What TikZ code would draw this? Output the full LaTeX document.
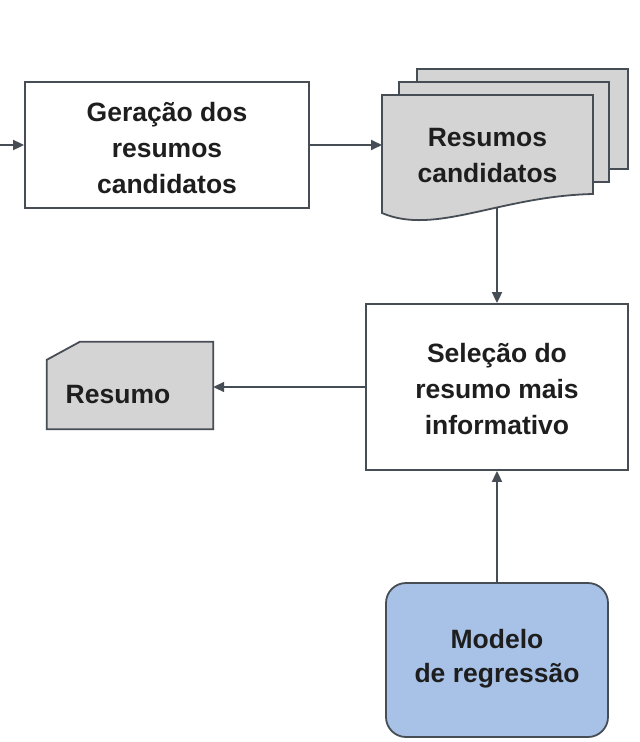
\documentclass[tikz,border=0pt]{standalone}
\usepackage{fontspec}
\setmainfont{Liberation Sans}
\usetikzlibrary{arrows.meta}
\definecolor{edgecol}{HTML}{474D55}
\definecolor{docgray}{HTML}{D4D4D4}
\definecolor{modelblue}{HTML}{A7C2E6}
\definecolor{txtcol}{HTML}{1E1E1E}
\begin{document}
\begin{tikzpicture}[x=1pt,y=-1pt,
  lbl/.style={font=\fontsize{26.5}{36}\selectfont\bfseries, text=txtcol, align=center},
  procbox/.style={lbl, draw=edgecol, line width=1.8pt, fill=white, inner sep=0pt},
  modelbox/.style={procbox, fill=modelblue, rounded corners=20pt},
  conn/.style={draw=edgecol, line width=1.8pt, -{Triangle[length=11pt,width=10pt]}},
  page/.style={draw=edgecol, line width=1.8pt, fill=docgray, line join=miter}]
\useasboundingbox (0,0) rectangle (640,742);
\fill[white] (0,0) rectangle (640,742);

% main boxes
\node[procbox, minimum width=284pt, minimum height=126pt] (gen) at (167,145) {};
\node[lbl] (gentxt) at (167,148) {Geração dos\\resumos\\candidatos};
\node[procbox, minimum width=262pt, minimum height=166pt] (sel) at (497,387) {};
\node[lbl] (seltxt) at (497,389) {Seleção do\\resumo mais\\informativo};
\node[modelbox, minimum width=222pt, minimum height=154pt] (model) at (497,660) {};
\node[lbl, font=\fontsize{26.5}{34}\selectfont\bfseries] (modeltxt) at (497,659)
  {Modelo\\de regressão};

% card (output summary)
\node[minimum width=166pt, minimum height=87pt, inner sep=0pt] (card) at (130,385.5) {};
\draw[page] (card.south west) -- ([yshift=-18pt]card.north west)
  -- ([xshift=33pt]card.north west) -- (card.north east) -- (card.south east) -- cycle;
\node[lbl] (cardtxt) at (118,395) {Resumo};

% connector from document stack, drawn below the pages
\coordinate (docin) at (497,185);
\draw[conn] (docin) -- (sel.north);

% document stack
\draw[page] (417,69) rectangle (628,169);
\draw[page] (399,82) rectangle (609,182);
\draw[page] (382,95) -- (593,95) -- (593,194)
  .. controls (500,196) and (435,236) .. (382,213) -- cycle;
\node[lbl] (doctxt) at (487.5,156) {Resumos\\candidatos};
\coordinate (docw) at (382,145);

% connectors
\coordinate (inlet) at (0,145);
\draw[conn] (inlet) -- (gen.west);
\draw[conn] (gen.east) -- (docw);
\draw[conn] (sel.west) -- (sel.west -| card.east);
\draw[conn] (model.north) -- (sel.south);
\end{tikzpicture}
\end{document}
